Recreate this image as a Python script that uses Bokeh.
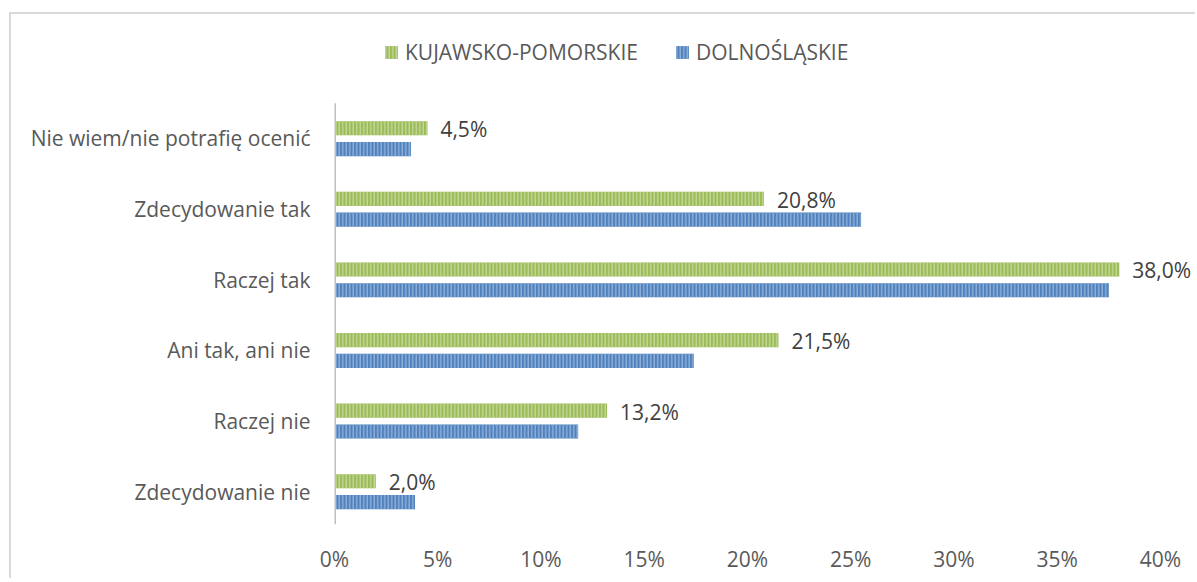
from bokeh.plotting import figure
from bokeh.models import ColumnDataSource, FixedTicker, Legend, LegendItem, Range1d
from bokeh.core.properties import value
from bokeh.embed import file_html
from bokeh.resources import INLINE

categories = ["Zdecydowanie nie", "Raczej nie", "Ani tak, ani nie", "Raczej tak",
              "Zdecydowanie tak", "Nie wiem/nie potrafię ocenić"]
kujawsko = [2.0, 13.2, 21.5, 38.0, 20.8, 4.5]
dolnoslaskie = [3.9, 11.8, 17.4, 37.5, 25.5, 3.7]
series_names = ["KUJAWSKO-POMORSKIE", "DOLNOŚLĄSKIE"]
x_ticks = [0, 5, 10, 15, 20, 25, 30, 35, 40]

FONT = "Open Sans"
FS = "21px"
pos = list(range(len(categories)))
Y_START, Y_END = -0.467, 6.60

GREEN, GREEN_H = "#9bbb59", "#c9dca0"
BLUE, BLUE_H = "#4f81bd", "#9bb8de"

src = ColumnDataSource(dict(
    y_k=[p + 0.145 for p in pos],
    y_d=[p - 0.15 for p in pos],
    k=kujawsko, d=dolnoslaskie,
    lbl=[f"{v:.1f}%".replace(".", ",") for v in kujawsko],
))

p = figure(width=1186, height=566, output_backend="svg", toolbar_location=None,
           x_range=Range1d(0, 41.79), y_range=Range1d(Y_START, Y_END),
           min_border_left=323, min_border_right=0, min_border_top=11,
           min_border_bottom=56)
p.margin = (12, 0, 0, 9)
p.styles = {"border-top": "2px solid #d9d9d9", "border-left": "2px solid #d9d9d9"}
p.outline_line_color = None
p.grid.grid_line_color = None

# vertical category axis line (from bottom of range to top category band)
p.segment(x0=[0], x1=[0], y0=[Y_START], y1=[len(categories) - 0.5],
          line_color="#bfbfbf", line_width=3)

hatch = dict(hatch_pattern="|", hatch_scale=3.5, hatch_weight=1.2, hatch_alpha=1.0)
rk = p.hbar(y="y_k", right="k", left=0.08, height=0.2, source=src,
            fill_color=GREEN, line_color=None, hatch_color=GREEN_H, **hatch)
rd = p.hbar(y="y_d", right="d", left=0.08, height=0.2, source=src,
            fill_color=BLUE, line_color=None, hatch_color=BLUE_H, **hatch)

p.text(x="k", y="y_k", text="lbl", source=src, x_offset=13, y_offset=1,
       text_font=value(FONT), text_font_size=FS, text_color="#404040",
       text_baseline="middle", text_align="left")

# axes
xa = p.xaxis[0]
xa.ticker = FixedTicker(ticks=x_ticks)
xa.major_label_overrides = {t: f"{t}%" for t in x_ticks}
xa.axis_line_color = None
xa.major_tick_line_color = None
xa.minor_tick_line_color = None
xa.major_label_standoff = 14
xa.major_label_text_font = FONT
xa.major_label_text_font_size = FS
xa.major_label_text_color = "#595959"

ya = p.yaxis[0]
ya.ticker = FixedTicker(ticks=pos)
ya.major_label_overrides = {i: c for i, c in enumerate(categories)}
ya.axis_line_color = None
ya.major_tick_line_color = None
ya.minor_tick_line_color = None
ya.major_label_standoff = 18
ya.major_label_text_font = FONT
ya.major_label_text_font_size = FS
ya.major_label_text_color = "#595959"

legend = Legend(items=[LegendItem(label=series_names[0], renderers=[rk]),
                       LegendItem(label=series_names[1], renderers=[rd])],
                orientation="horizontal", location=(49, 458),
                label_text_font=FONT, label_text_font_size=FS,
                label_text_color="#595959", glyph_width=16, glyph_height=16,
                spacing=36, label_standoff=6, border_line_color=None,
                background_fill_alpha=0, padding=0, margin=0)
p.add_layout(legend, "center")

open("out.html", "w").write(file_html(p, INLINE))
